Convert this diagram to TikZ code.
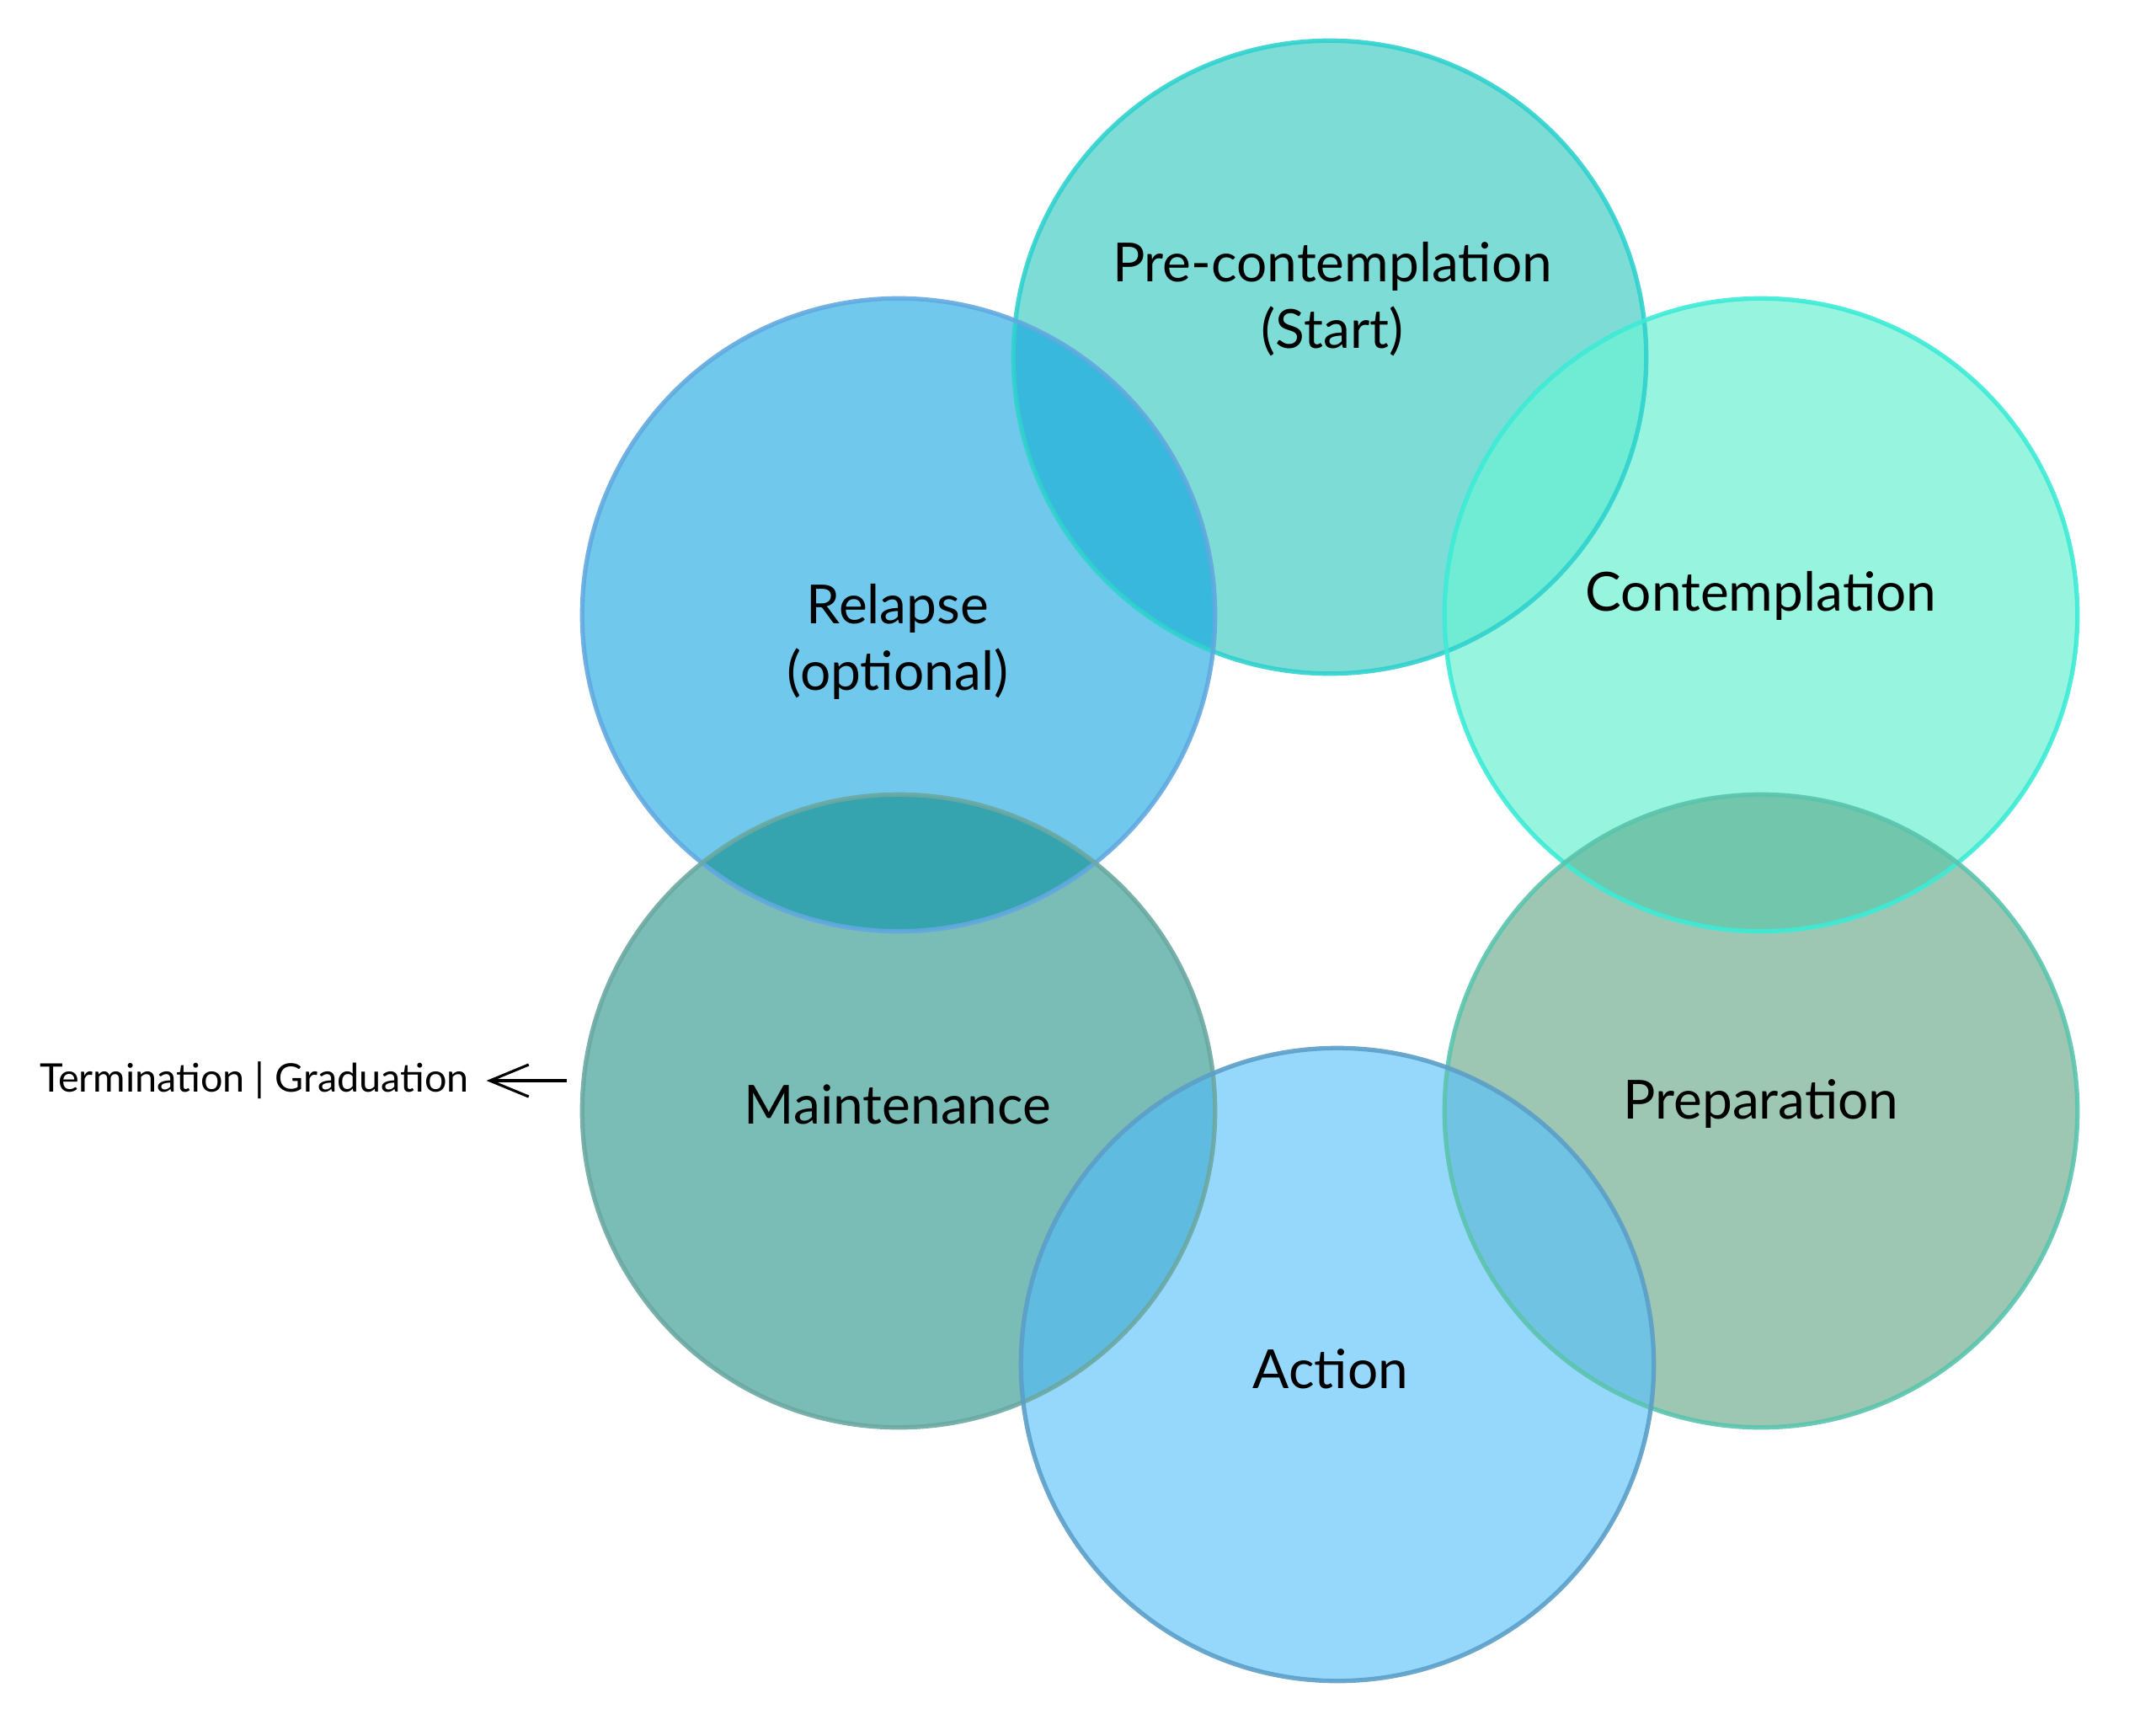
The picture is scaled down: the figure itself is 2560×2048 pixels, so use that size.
\documentclass[tikz,border=0pt]{standalone}
\usepackage{fontspec}
\setmainfont{Lato}
\usetikzlibrary{arrows.meta}
\definecolor{fPre}{HTML}{7DDCD6}
\definecolor{bPre}{HTML}{30D2CE}
\definecolor{fCon}{HTML}{97F5DF}
\definecolor{bCon}{HTML}{3DEBD6}
\definecolor{fPrep}{HTML}{9DC7B3}
\definecolor{bPrep}{HTML}{5BC4AD}
\definecolor{fAct}{HTML}{96D7FC}
\definecolor{bAct}{HTML}{5C9FC8}
\definecolor{fMai}{HTML}{7ABCB6}
\definecolor{bMai}{HTML}{6BA9A2}
\definecolor{fRel}{HTML}{70C9EC}
\definecolor{bRel}{HTML}{62A9E0}
\definecolor{oPreRel}{HTML}{38B8DC}
\definecolor{oPreCon}{HTML}{70ECD5}
\definecolor{oConPrep}{HTML}{72C6AC}
\definecolor{oPrepAct}{HTML}{70C3E2}
\definecolor{oActMai}{HTML}{60BBE0}
\definecolor{oMaiRel}{HTML}{35A4AF}
\tikzset{
  ring/.style={line width=1.5pt, draw opacity=0.9},
  lbl/.style={font=\fontsize{18.2}{22.5}\selectfont, text=black, align=center, inner sep=0pt},
  smalllbl/.style={font=\fontsize{13.3}{16}\selectfont, text=black, inner sep=0pt},
  arr/.style={-{Straight Barb[length=0.46cm,width=0.38cm]}, line width=0.9pt, black}
}
\begin{document}
\begin{tikzpicture}[x=0.01cm,y=-0.01cm]
\useasboundingbox (0,0) rectangle (2560,2048);
\def\R{3.755cm}
\coordinate (cPre) at (1579,424);
\coordinate (cCon) at (2091,730);
\coordinate (cPrep) at (2091,1319);
\coordinate (cAct) at (1588,1620);
\coordinate (cMai) at (1067,1319);
\coordinate (cRel) at (1067,730);
% base fills
\fill[fPre] (cPre) circle[radius=\R];
\fill[fRel] (cRel) circle[radius=\R];
\fill[fCon] (cCon) circle[radius=\R];
\fill[fMai] (cMai) circle[radius=\R];
\fill[fPrep] (cPrep) circle[radius=\R];
\fill[fAct] (cAct) circle[radius=\R];
% overlaps
\begin{scope}\clip (cPre) circle[radius=\R]; \fill[oPreRel] (cRel) circle[radius=\R];\end{scope}
\begin{scope}\clip (cPre) circle[radius=\R]; \fill[oPreCon] (cCon) circle[radius=\R];\end{scope}
\begin{scope}\clip (cCon) circle[radius=\R]; \fill[oConPrep] (cPrep) circle[radius=\R];\end{scope}
\begin{scope}\clip (cPrep) circle[radius=\R]; \fill[oPrepAct] (cAct) circle[radius=\R];\end{scope}
\begin{scope}\clip (cAct) circle[radius=\R]; \fill[oActMai] (cMai) circle[radius=\R];\end{scope}
\begin{scope}\clip (cMai) circle[radius=\R]; \fill[oMaiRel] (cRel) circle[radius=\R];\end{scope}
% borders
\draw[ring, bPre] (cPre) circle[radius=\R];
\draw[ring, bRel] (cRel) circle[radius=\R];
\draw[ring, bCon] (cCon) circle[radius=\R];
\draw[ring, bMai] (cMai) circle[radius=\R];
\draw[ring, bPrep] (cPrep) circle[radius=\R];
\draw[ring, bAct] (cAct) circle[radius=\R];
% labels
\node[lbl] (tPre) at (1582,355) {Pre-contemplation\\(Start)};
\node[lbl] (tCon) at (2091,707) {Contemplation};
\node[lbl] (tRel) at (1066,762) {Relapse\\(optional)};
\node[lbl] (tMai) at (1066,1311) {Maintenance};
\node[lbl] (tPrep) at (2091,1311) {Preparation};
\node[lbl] (tAct) at (1580,1625) {Action};
\node[smalllbl] (tTerm) at (302,1283) {Termination | Graduation};
\coordinate (tail) at (673,1283);
\draw[arr, shorten >=0.2cm] (tail) -- (tTerm.east);
\end{tikzpicture}
\end{document}
